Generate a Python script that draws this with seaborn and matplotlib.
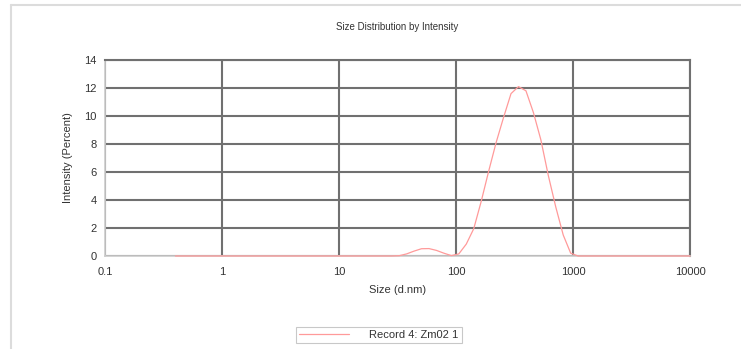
import matplotlib
matplotlib.use("Agg")
import matplotlib.pyplot as plt
from matplotlib.lines import Line2D
from matplotlib.ticker import FixedLocator, NullFormatter
import seaborn as sns
import pandas as pd

# ---- data ----
size_nm = [0.4, 0.4632, 0.5365, 0.6213, 0.7195, 0.8332, 0.9649, 1.117, 1.294, 1.499,
           1.736, 2.010, 2.328, 2.696, 3.122, 3.615, 4.187, 4.849, 5.615, 6.503,
           7.531, 8.721, 10.10, 11.70, 13.54, 15.69, 18.17, 21.04, 24.36, 28.21,
           32.67, 37.84, 43.82, 50.75, 58.77, 68.06, 78.82, 91.28, 105.7, 122.4,
           141.8, 164.2, 190.1, 220.2, 255.0, 295.3, 342.0, 396.1, 458.7, 531.2,
           615.1, 712.4, 825.0, 955.4, 1106, 1281, 1484, 1718, 1990, 2305,
           2669, 3091, 3580, 4145, 4801, 5560, 6439, 7456, 8635, 10000]
intensity_pct = [0, 0, 0, 0, 0, 0, 0, 0, 0, 0,
                 0, 0, 0, 0, 0, 0, 0, 0, 0, 0,
                 0, 0, 0, 0, 0, 0, 0, 0, 0, 0,
                 0.02, 0.15, 0.35, 0.52, 0.53, 0.40, 0.20, 0.03, 0.15, 0.85,
                 1.95, 3.9, 6.05, 8.1, 9.9, 11.6, 12.1, 11.8, 10.25, 8.3,
                 5.75, 3.5, 1.5, 0.2, 0, 0, 0, 0, 0, 0,
                 0, 0, 0, 0, 0, 0, 0, 0, 0, 0]
series_name = "Record 4: Zm02 1"
x_ticks = [0.1, 1, 10, 100, 1000, 10000]
x_tick_labels = ["0.1", "1", "10", "100", "1000", "10000"]
y_ticks = [0, 2, 4, 6, 8, 10, 12, 14]
title = "Size Distribution by Intensity"
x_label = "Size (d.nm)"
y_label = "Intensity (Percent)"

df = pd.DataFrame({"Size": size_nm, "Intensity": intensity_pct, "Record": series_name})

sns.set_style("white")
plt.rcParams["font.family"] = ["Liberation Sans", "DejaVu Sans"]

W, H = 741, 349
fig = plt.figure(figsize=(W / 100, H / 100), dpi=100)
ax = fig.add_axes([105 / W, 1 - 256 / H, (690 - 105) / W, (256 - 60) / H])

sns.lineplot(data=df, x="Size", y="Intensity", hue="Record", palette=["#ff9a9a"],
             linewidth=0.9, ax=ax, legend=False)
for ln in ax.get_lines():
    ln.set_zorder(5)
    ln.set_clip_on(False)
    ln.set_solid_joinstyle("round")

ax.set_xscale("log")
ax.set_xlim(0.1, 10000)
ax.set_ylim(0, 14)

grid_col = "#707070"
ax.set_xticks(x_ticks)
ax.set_xticklabels(x_tick_labels)
minor = [m * d for d in [0.1, 1, 10, 100, 1000] for m in range(2, 10)]
ax.xaxis.set_minor_locator(FixedLocator(minor))
ax.xaxis.set_minor_formatter(NullFormatter())
ax.set_yticks(y_ticks)
ax.yaxis.set_minor_locator(FixedLocator([1, 3, 5, 7, 9, 11, 13]))

ax.grid(True, which="major", color=grid_col, linewidth=1.5)
ax.set_axisbelow(True)

ax.tick_params(axis="both", which="major", labelsize=8, length=2, width=0.8,
               color="#bbbbbb", labelcolor="#333333", pad=4)
ax.tick_params(axis="both", which="minor", length=2.5, width=0.7,
               color="#aaaaaa", direction="inout")
ax.tick_params(axis="x", which="major", pad=6)

for side in ["left", "bottom"]:
    ax.spines[side].set_color("#cccccc")
    ax.spines[side].set_linewidth(1.2)
for side in ["top", "right"]:
    ax.spines[side].set_color(grid_col)
    ax.spines[side].set_linewidth(1.5)

ax.set_xlabel(x_label, fontsize=8, color="#333333", labelpad=6)
ax.set_ylabel(y_label, fontsize=8, color="#333333", labelpad=8)

fig.text(397.5 / W, 1 - 27 / H, title, ha="center", va="center",
         fontsize=7, color="#333333")

handle = Line2D([], [], color="#ff9a9a", linewidth=0.9)
leg = fig.legend([handle], [series_name], loc="center",
                 bbox_to_anchor=(379 / W, 1 - 335 / H), fontsize=8,
                 frameon=True, fancybox=False, handlelength=4.5,
                 borderpad=0.3, handletextpad=1.8)
leg.get_frame().set_edgecolor("#bbbbbb")
leg.get_frame().set_linewidth(0.8)
for t in leg.get_texts():
    t.set_color("#333333")

# light page border (top and left)
fig.add_artist(Line2D([11 / W, 1], [1 - 5 / H, 1 - 5 / H], transform=fig.transFigure,
                      color="#dcdcdc", linewidth=1.5))
fig.add_artist(Line2D([11 / W, 11 / W], [0, 1 - 5 / H], transform=fig.transFigure,
                      color="#dcdcdc", linewidth=1.5))

fig.savefig("out.png", dpi=100)
